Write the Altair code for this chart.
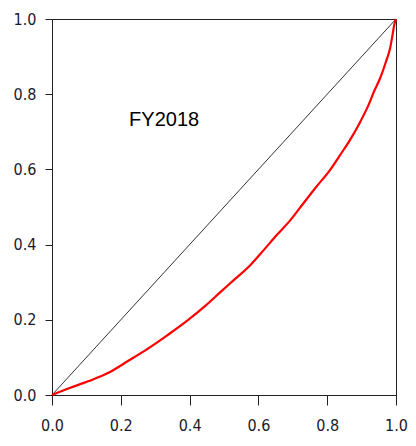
import altair as alt
import pandas as pd

lorenz_x = [0, 0.049, 0.107, 0.164, 0.222, 0.280, 0.337, 0.395, 0.448, 0.491, 0.529,
            0.577, 0.616, 0.654, 0.693, 0.731, 0.765, 0.808, 0.841, 0.866, 0.894,
            0.918, 0.938, 0.954, 0.971, 0.983, 0.990, 0.995, 1.0]
lorenz_y = [0, 0.018, 0.037, 0.059, 0.091, 0.124, 0.160, 0.199, 0.239, 0.275, 0.306,
            0.346, 0.386, 0.426, 0.465, 0.510, 0.550, 0.598, 0.643, 0.678, 0.723,
            0.767, 0.811, 0.843, 0.887, 0.923, 0.958, 0.985, 1.0]
diag_x = [0, 1]
diag_y = [0, 1]
tick_values = [0.0, 0.2, 0.4, 0.6, 0.8, 1.0]
label_text = ["FY2018"]
label_x = [0.326]
label_y = [0.731]

lor = pd.DataFrame({"x": lorenz_x, "y": lorenz_y})
diag = pd.DataFrame({"x": diag_x, "y": diag_y})
lab = pd.DataFrame({"x": label_x, "y": label_y, "t": label_text})

FONT = "Liberation Sans Narrow, DejaVu Sans Condensed, Arial Narrow, Liberation Sans, sans-serif"

xs = alt.Scale(domain=[0, 1], nice=False, zero=False)
ys = alt.Scale(domain=[0, 1], nice=False, zero=False)

xaxis = alt.Axis(values=tick_values, format=".1f", title=None, grid=False,
                 tickSize=10, labelPadding=12, labelFont=FONT, labelFontSize=16,
                 labelColor="#1a1a2a", domainColor="#222", tickColor="#222",
                 labelFlush=False)
yaxis = alt.Axis(values=tick_values, format=".1f", title=None, grid=False,
                 tickSize=7, labelPadding=9, labelFont=FONT, labelFontSize=16,
                 labelColor="#1a1a2a", domainColor="#222", tickColor="#222",
                 labelFlush=False)

diag_line = alt.Chart(diag).mark_line(color="black", strokeWidth=0.8).encode(
    x=alt.X("x:Q", scale=xs, axis=xaxis),
    y=alt.Y("y:Q", scale=ys, axis=yaxis),
)
curve = alt.Chart(lor).mark_line(color="#ff0000", strokeWidth=2.2,
                                 interpolate="monotone").encode(
    x=alt.X("x:Q", scale=xs),
    y=alt.Y("y:Q", scale=ys),
    order="x:Q",
)
text = alt.Chart(lab).mark_text(font="Liberation Sans, Arial, sans-serif", fontSize=20,
                                color="black").encode(
    x=alt.X("x:Q", scale=xs),
    y=alt.Y("y:Q", scale=ys),
    text="t:N",
)

chart = (diag_line + curve + text).properties(
    width=344, height=376,
    autosize=alt.AutoSizeParams(type="none"),
    padding={"left": 44, "top": 11, "right": 12, "bottom": 38},
    background="white",
).configure_view(stroke="#222", strokeWidth=1)

chart.save("out.html", embed_options={"renderer": "svg", "actions": False})
